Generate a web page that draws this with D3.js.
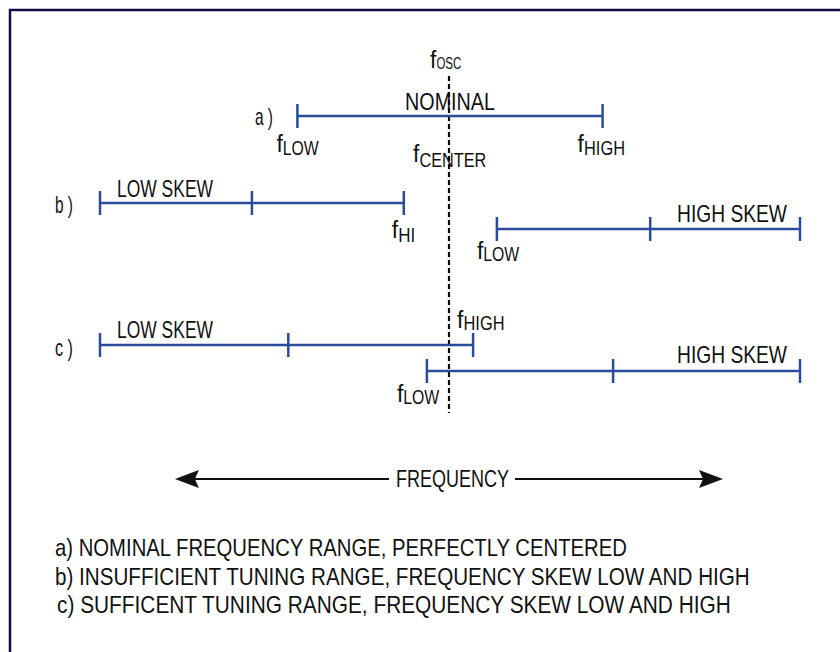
<!doctype html>
<meta charset="utf-8" />
<style>
    body {
        margin: 0;
        background: #fff;
    }
    text {
        font-family: 'Liberation Sans', Arial, sans-serif;
        fill: #111;
    }
</style>
<svg></svg>

<script src="https://cdn.jsdelivr.net/npm/d3@7/dist/d3.min.js"></script>
<script>
    // frequency position of every range, 0..100 across the drawing
    var lanes = ['a', 'bLow', 'bHigh', 'cLow', 'cHigh'];
    var rangeLow = [28.2, 0, 56.7, 0, 46.7];
    var rangeMid = [null, 21.7, 78.6, 26.9, 73.3];
    var rangeHigh = [71.8, 43.4, 100, 53.3, 100];
    var fCenter = 50;
    var arrowSpan = [10.7, 89];
    var rowLabels = ['a )', 'b )', 'c )'];
    var notes = [
        'a) NOMINAL FREQUENCY RANGE, PERFECTLY CENTERED',
        'b)  INSUFFICIENT TUNING RANGE,  FREQUENCY SKEW LOW AND HIGH',
        'c) SUFFICENT TUNING RANGE, FREQUENCY SKEW  LOW AND HIGH'
    ];

    var svg = d3.select('svg')
        .attr('width', 840)
        .attr('height', 652)

    var x = d3.scaleLinear().domain([0, 100]).range([100, 800]);
    var y = d3.scaleOrdinal().domain(lanes).range([116, 203, 229, 345, 371]);

    var blue = '#2b4b9b';

    // frame
    svg.append('path')
        .attr('d', 'M10,652 V10 H840')
        .style('fill', 'none')
        .style('stroke', '#0d0d45')
        .style('stroke-width', 2.5)

    // center line
    svg.append('line')
        .attr('x1', x(fCenter) - 1).attr('x2', x(fCenter) - 1)
        .attr('y1', 76).attr('y2', 413)
        .style('stroke', '#000')
        .style('stroke-width', 2.2)
        .style('stroke-dasharray', '5,3')

    var rows = svg.selectAll('g.range')
        .data(lanes)
        .enter().append('g')
        .attr('class', 'range')

    rows.append('line')
        .attr('x1', (d, i) => x(rangeLow[i]))
        .attr('x2', (d, i) => x(rangeHigh[i]))
        .attr('y1', d => y(d)).attr('y2', d => y(d))
        .style('stroke', blue)
        .style('stroke-width', 2.5)

    rows.each(function (d, i) {
        var ticks = [rangeLow[i], rangeMid[i], rangeHigh[i]].filter(v => v !== null);
        d3.select(this).selectAll('line.tick')
            .data(ticks)
            .enter().append('line')
            .attr('class', 'tick')
            .attr('x1', v => x(v)).attr('x2', v => x(v))
            .attr('y1', y(d) - 12).attr('y2', y(d) + 12)
            .style('stroke', blue)
            .style('stroke-width', 2.5)
    })

    function fLabel(px, py, sub, ss, dy, w) {
        var t = svg.append('text')
            .attr('x', px)
            .attr('y', py)
            .style('font-size', '23px')
        t.append('tspan').text('f')
        t.append('tspan')
            .attr('dy', dy)
            .attr('textLength', w)
            .attr('lengthAdjust', 'spacingAndGlyphs')
            .style('font-size', ss + 'px')
            .text(sub)
        return t;
    }

    function word(px, py, s, w, anchor) {
        return svg.append('text')
            .attr('x', px)
            .attr('y', py)
            .attr('text-anchor', anchor || 'start')
            .attr('textLength', w)
            .attr('lengthAdjust', 'spacingAndGlyphs')
            .style('font-size', '24px')
            .text(s)
    }

    // row a
    fLabel(x(fCenter) - 20, 68, 'OSC', 16, 1, 25);
    word(x(fCenter) - 45, 110, 'NOMINAL', 90);
    fLabel(x(rangeLow[0]) - 21, 152, 'LOW', 20, 3, 36);
    fLabel(x(rangeHigh[0]) - 25, 152, 'HIGH', 20, 3, 41);
    fLabel(x(fCenter) - 37, 162, 'CENTER', 20, 5, 67);

    // row b
    word(117, 197, 'LOW SKEW', 96);
    fLabel(x(rangeHigh[1]) - 12, 238, 'HI', 20, 4, 17);
    word(787, 222, 'HIGH SKEW', 110, 'end');
    fLabel(x(rangeLow[2]) - 20, 259, 'LOW', 20, 2, 36);

    // row c
    word(117, 338, 'LOW SKEW', 96);
    fLabel(x(rangeHigh[3]) - 16, 328, 'HIGH', 20, 2, 41);
    word(787, 363, 'HIGH SKEW', 110, 'end');
    fLabel(x(rangeLow[4]) - 30, 402, 'LOW', 20, 2, 36);

    // row letters
    svg.selectAll('text.row')
        .data(rowLabels)
        .enter().append('text')
        .attr('class', 'row')
        .attr('x', (d, i) => i === 0 ? 255 : 55)
        .attr('y', (d, i) => [125, 213, 356][i])
        .attr('textLength', 18)
        .attr('lengthAdjust', 'spacingAndGlyphs')
        .style('font-size', '24px')
        .text(d => d)

    // frequency arrow
    var ay = 479;
    svg.append('line')
        .attr('x1', x(arrowSpan[0]) + 20).attr('x2', 389)
        .attr('y1', ay).attr('y2', ay)
        .style('stroke', '#111').style('stroke-width', 2.2)
    svg.append('line')
        .attr('x1', 515).attr('x2', x(arrowSpan[1]) - 20)
        .attr('y1', ay).attr('y2', ay)
        .style('stroke', '#111').style('stroke-width', 2.2)

    var head = d3.line();
    svg.append('path')
        .attr('d', head([[x(arrowSpan[0]), ay], [x(arrowSpan[0]) + 24, ay - 9], [x(arrowSpan[0]) + 20, ay], [x(arrowSpan[0]) + 24, ay + 9]]) + 'Z')
        .style('fill', '#111')
    svg.append('path')
        .attr('d', head([[x(arrowSpan[1]), ay], [x(arrowSpan[1]) - 24, ay - 9], [x(arrowSpan[1]) - 20, ay], [x(arrowSpan[1]) - 24, ay + 9]]) + 'Z')
        .style('fill', '#111')

    word(396, 487, 'FREQUENCY', 113);

    // footnotes: squeeze each line horizontally to its width in the figure
    var noteWidth = [572, 695, 674];
    svg.selectAll('text.note')
        .data(notes)
        .enter().append('text')
        .attr('class', 'note')
        .style('font-size', '24px')
        .text(d => d)
        .attr('transform', function (d, i) {
            var k = noteWidth[i] / this.getComputedTextLength();
            return 'translate(' + (i === 2 ? 57 : 55) + ',' + (556 + i * 28.5) + ') scale(' + k + ',1)';
        })

</script>
